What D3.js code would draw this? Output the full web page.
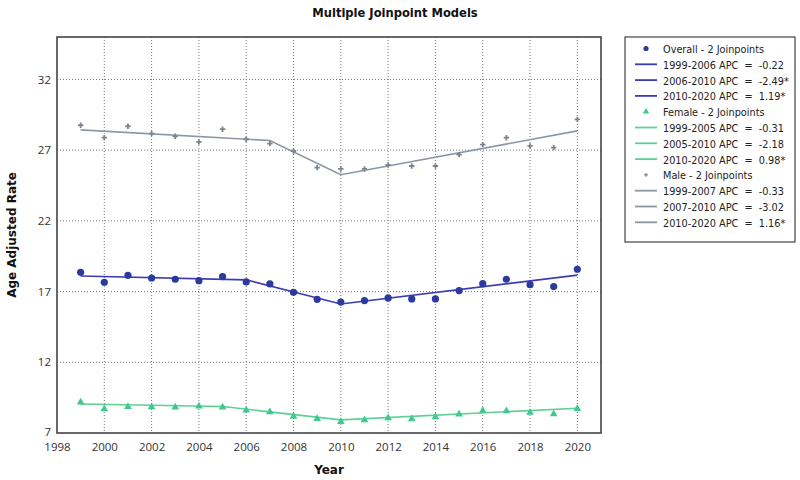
<!DOCTYPE html>
<html><head><meta charset="utf-8">
<script src="https://cdn.jsdelivr.net/npm/d3@7/dist/d3.min.js"></script>
<style>body{margin:0;background:#fff;font-family:"DejaVu Sans",sans-serif;}</style>
</head><body><svg id="c" width="800" height="480"></svg>
<script>
const years = [1999,2000,2001,2002,2003,2004,2005,2006,2007,2008,2009,2010,2011,2012,2013,2014,2015,2016,2017,2018,2019,2020];
const overall = [18.36,17.66,18.15,17.96,17.87,17.77,18.06,17.68,17.54,16.95,16.45,16.26,16.36,16.55,16.48,16.48,17.07,17.56,17.87,17.49,17.35,18.58];
const female  = [9.17,8.70,8.86,8.84,8.82,8.89,8.82,8.61,8.49,8.16,8.01,7.80,7.92,8.06,7.99,8.13,8.32,8.58,8.56,8.44,8.34,8.72];
const male    = [28.76,27.88,28.69,28.17,27.98,27.58,28.48,27.77,27.46,26.94,25.76,25.67,25.67,25.95,25.88,25.88,26.68,27.39,27.88,27.30,27.18,29.18];
const overallJoinYears = [1999,2006,2010,2020];
const overallFit = [18.10,17.83,16.12,18.16];
const femaleJoinYears = [1999,2005,2010,2020];
const femaleFit = [9.05,8.87,7.93,8.75];
const maleJoinYears = [1999,2007,2010,2020];
const maleFit = [28.43,27.68,25.26,28.36];
const xTicks = [1998,2000,2002,2004,2006,2008,2010,2012,2014,2016,2018,2020];
const yTicks = [7,12,17,22,27,32];
const legendLabels = ["Overall - 2 Joinpoints","1999-2006 APC  =  -0.22","2006-2010 APC  =  -2.49*","2010-2020 APC  =  1.19*",
  "Female - 2 Joinpoints","1999-2005 APC  =  -0.31","2005-2010 APC  =  -2.18","2010-2020 APC  =  0.98*",
  "Male - 2 Joinpoints","1999-2007 APC  =  -0.33","2007-2010 APC  =  -3.02","2010-2020 APC  =  1.16*"];

const C = {oPt:"#2b3a9e", oLn:"#3b3cb4", fPt:"#3fc98f", fLn:"#5fcf93", mPt:"#7d8593", mLn:"#8c97a5"};
const svg = d3.select("#c");
const L=57, R=601, T=37, B=433;
const x = d3.scaleLinear().domain([1998,2021]).range([L,R]);
const y = d3.scaleLinear().domain([7,35]).range([B,T]);

const g = svg.append("g");
g.selectAll(".vg").data(xTicks.slice(1)).join("line")
  .attr("x1",d=>x(d)).attr("x2",d=>x(d)).attr("y1",T).attr("y2",B)
  .attr("stroke","#777").attr("stroke-width",1).attr("stroke-dasharray","1,2");
g.selectAll(".hg").data(yTicks.slice(1)).join("line")
  .attr("x1",L).attr("x2",R).attr("y1",d=>y(d)).attr("y2",d=>y(d))
  .attr("stroke","#777").attr("stroke-width",1).attr("stroke-dasharray","1,2");

const xa = svg.append("g").attr("transform",`translate(0,${B})`)
  .call(d3.axisBottom(x).tickValues(xTicks).tickFormat(d3.format("d")).tickSize(0).tickPadding(10));
const ya = svg.append("g").attr("transform",`translate(${L},0)`)
  .call(d3.axisLeft(y).tickValues(yTicks).tickSize(0).tickPadding(6));
[xa,ya].forEach(a=>{a.select(".domain").remove();
  a.selectAll("text").attr("font-family","'Open Sans','DejaVu Sans',sans-serif").attr("font-size",11.5).attr("fill","#333");});
ya.selectAll("text").filter(d=>d===7).attr("dy","0.2em");

svg.append("rect").attr("x",L).attr("y",T).attr("width",R-L).attr("height",B-T)
  .attr("fill","none").attr("stroke","#444").attr("stroke-width",1.6);

const line = d3.line().x(d=>x(d[0])).y(d=>y(d[1]));
function fit(ys, vs, col){
  svg.append("path").datum(ys.map((d,i)=>[d,vs[i]])).attr("d",line)
    .attr("fill","none").attr("stroke",col).attr("stroke-width",1.6);
}
fit(maleJoinYears, maleFit, C.mLn);
fit(overallJoinYears, overallFit, C.oLn);
fit(femaleJoinYears, femaleFit, C.fLn);

svg.append("g").selectAll("circle").data(years).join("circle")
  .attr("cx",d=>x(d)).attr("cy",(d,i)=>y(overall[i])).attr("r",3.6).attr("fill",C.oPt);
const tri = d3.symbol().type(d3.symbolTriangle).size(26);
svg.append("g").selectAll("path").data(years).join("path")
  .attr("transform",(d,i)=>`translate(${x(d)},${y(female[i])})`).attr("d",tri).attr("fill",C.fPt);
const cross = d3.symbol().type(d3.symbolCross).size(16);
svg.append("g").selectAll("path").data(years).join("path")
  .attr("transform",(d,i)=>`translate(${x(d)},${y(male[i])})`).attr("d",cross).attr("fill",C.mPt);

svg.append("text").attr("x",395).attr("y",17).attr("text-anchor","middle")
  .attr("font-family","'DejaVu Sans Condensed','DejaVu Sans',sans-serif").attr("font-weight","bold").attr("font-size",12.8)
  .attr("fill","#111").text("Multiple Joinpoint Models");
svg.append("text").attr("x",329).attr("y",474).attr("text-anchor","middle")
  .attr("font-family","'DejaVu Sans',sans-serif").attr("font-weight","bold").attr("font-size",12)
  .attr("fill","#111").text("Year");
svg.append("text").attr("transform","translate(16,235) rotate(-90)").attr("text-anchor","middle")
  .attr("font-family","'DejaVu Sans',sans-serif").attr("font-weight","bold").attr("font-size",12)
  .attr("fill","#111").text("Age Adjusted Rate");

const lg = svg.append("g");
lg.append("rect").attr("x",625).attr("y",37).attr("width",170).attr("height",205)
  .attr("fill","#fff").attr("stroke","#444").attr("stroke-width",1.2);
const groupCols = [[C.oPt,C.oLn],[C.fPt,C.fLn],[C.mPt,C.mLn]];
legendLabels.forEach((t,i)=>{
  const yy = 49.5 + i*15.8;
  const grp = Math.floor(i/4), k = i%4;
  if(k===0){
    if(grp===0) lg.append("circle").attr("cx",646).attr("cy",yy-1).attr("r",2.6).attr("fill",groupCols[0][0]);
    else if(grp===1) lg.append("path").attr("transform",`translate(646,${yy-1})`).attr("d",d3.symbol().type(d3.symbolTriangle).size(18)).attr("fill",groupCols[1][0]);
    else lg.append("path").attr("transform",`translate(646,${yy-1})`).attr("d",d3.symbol().type(d3.symbolCross).size(8)).attr("fill",groupCols[2][0]);
  } else {
    lg.append("line").attr("x1",635).attr("x2",657).attr("y1",yy-1).attr("y2",yy-1)
      .attr("stroke",groupCols[grp][1]).attr("stroke-width",1.8);
  }
  lg.append("text").attr("x",663).attr("y",yy+3.5).attr("font-family","'DejaVu Sans Condensed','DejaVu Sans',sans-serif")
    .attr("font-size",10.8).attr("fill","#222").attr("xml:space","preserve").style("white-space","pre").text(t);
});
</script></body></html>
